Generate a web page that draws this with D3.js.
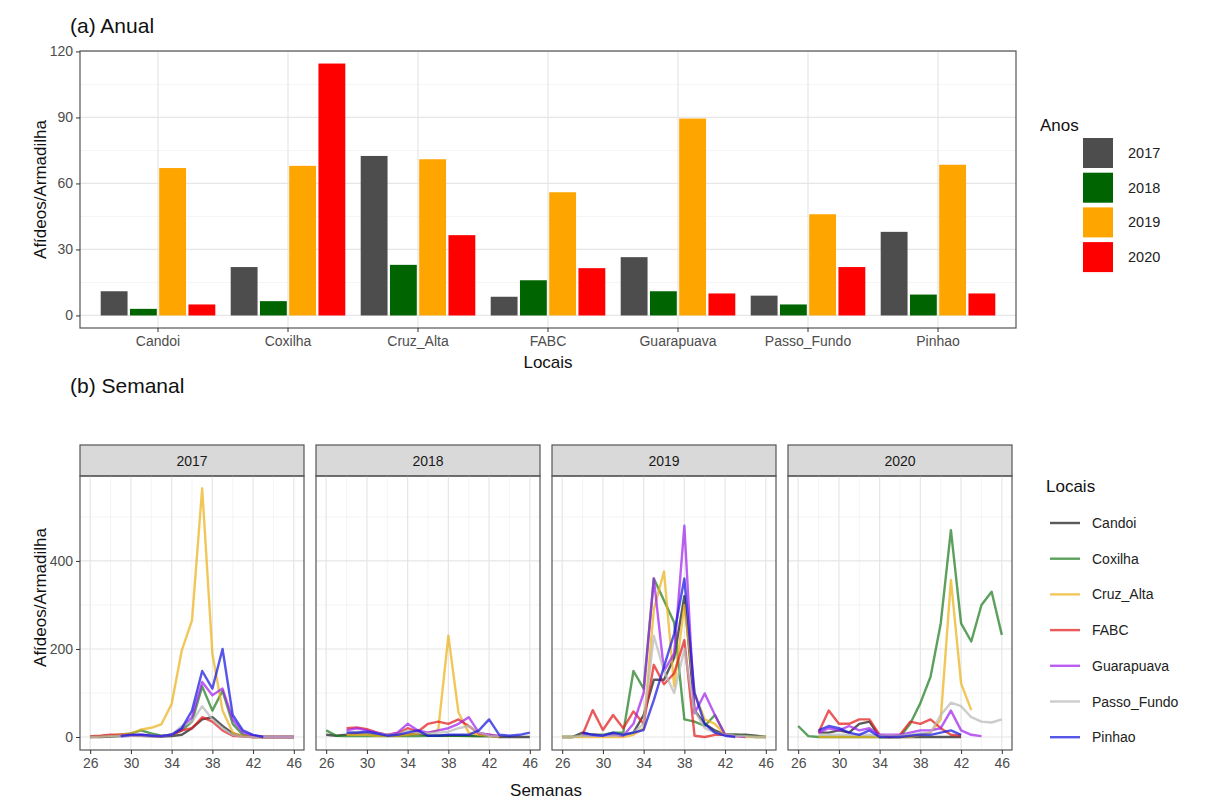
<!DOCTYPE html>
<html><head><meta charset="utf-8">
<script src="https://cdn.jsdelivr.net/npm/d3@7"></script>
<style>body{margin:0;background:#fff}svg{font-family:"Liberation Sans",Arial,sans-serif}</style>
</head><body><svg id="c" width="1208" height="801"></svg>
<script>
// ---------- data ----------
const locais = ["Candoi","Coxilha","Cruz_Alta","FABC","Guarapuava","Passo_Fundo","Pinhao"];
const anos = ["2017","2018","2019","2020"];
const anual2017 = [11, 22, 72.5, 8.5, 26.5, 9, 38];
const anual2018 = [3, 6.5, 23, 16, 11, 5, 9.5];
const anual2019 = [67, 68, 71, 56, 89.5, 46, 68.5];
const anual2020 = [5, 114.5, 36.5, 21.5, 10, 22, 10];
const anualTicks = [0, 30, 60, 90, 120];

const semanas = d3.range(26, 47);
const semanaTicks = [26, 30, 34, 38, 42, 46];
const semanalTicks = [0, 200, 400];
const N = null;
// weekly values, weeks 26..46
const s2017 = {
  Candoi:      [0,0,1,2,3,3,2,1,2,5,20,40,45,25,8,2,0,0,0,0,0],
  Coxilha:     [0,2,3,5,8,15,8,3,5,15,35,115,60,105,30,5,1,0,0,0,0],
  Cruz_Alta:   [0,1,3,5,8,17,21,29,75,197,265,565,190,60,10,2,0,0,0,0,0],
  FABC:        [2,3,5,5,4,3,2,2,5,15,20,45,35,15,3,1,0,0,0,0,0],
  Guarapuava:  [N,N,N,2,3,5,3,2,5,20,45,125,95,110,40,10,3,0,0,0,0],
  Passo_Fundo: [0,1,2,3,3,2,2,2,5,25,35,70,40,20,5,1,0,0,0,0,0],
  Pinhao:      [N,N,N,2,5,5,3,2,5,20,60,150,110,200,50,15,5,0,N,N,N]
};
const s2018 = {
  Candoi:      [5,3,5,8,8,5,3,3,5,8,3,3,3,3,3,2,2,0,0,0,0],
  Coxilha:     [15,3,2,2,2,2,2,2,2,2,3,3,3,3,2,2,2,N,N,N,N],
  Cruz_Alta:   [N,N,5,5,5,3,3,3,5,8,10,15,230,55,10,5,3,0,N,N,N],
  FABC:        [N,N,20,22,18,10,5,8,20,12,30,35,30,40,25,8,5,2,N,N,N],
  Guarapuava:  [N,N,15,20,15,10,5,10,30,15,10,15,20,30,45,10,5,2,N,N,N],
  Passo_Fundo: [N,N,10,12,10,8,5,5,15,10,8,10,12,20,25,10,3,2,N,N,N],
  Pinhao:      [N,N,10,10,12,8,3,5,10,15,3,3,5,5,5,15,40,5,3,5,10]
};
const s2019 = {
  Candoi:      [0,0,10,5,3,5,5,10,50,130,130,180,320,60,30,15,5,5,5,3,0],
  Coxilha:     [0,0,3,5,5,10,10,150,110,360,310,260,40,35,25,50,5,5,3,0,0],
  Cruz_Alta:   [0,0,0,0,0,0,0,5,20,290,376,115,300,100,40,30,5,2,0,0,0],
  FABC:        [N,N,5,61,16,50,20,58,30,164,120,145,220,3,0,5,5,2,N,N,N],
  Guarapuava:  [N,N,5,3,3,5,3,30,100,360,150,190,480,54,99,50,5,2,0,N,N],
  Passo_Fundo: [0,0,3,3,3,3,5,10,30,230,150,100,200,60,20,10,5,3,2,0,0],
  Pinhao:      [N,N,10,5,3,10,5,10,16,84,160,235,360,100,30,10,3,0,N,N,N]
};
const s2020 = {
  Candoi:      [N,N,10,10,15,10,30,35,0,0,0,0,0,0,0,0,0,N,N,N,N],
  Coxilha:     [25,2,0,0,0,0,0,0,0,0,0,30,77,137,258,470,258,217,300,330,232],
  Cruz_Alta:   [N,N,0,0,0,0,0,0,0,0,0,0,5,10,40,357,122,61,N,N,N],
  FABC:        [N,N,10,60,30,30,40,40,5,0,5,35,30,40,20,5,3,N,N,N,N],
  Guarapuava:  [N,N,10,20,15,25,15,20,5,5,5,10,15,15,20,60,15,5,2,N,N],
  Passo_Fundo: [N,N,5,5,5,5,5,5,3,3,3,5,8,10,50,78,70,45,35,33,40],
  Pinhao:      [N,N,15,25,20,10,5,15,0,0,0,3,5,5,10,15,5,N,N,N,N]
};

const corAnos = ["#4d4d4d", "#006400", "#FFA500", "#FF0000"];
const corLocais = ["#1a1a1a", "#1e7b1e", "#EBB21A", "#e31a1c", "#A020F0", "#b8b8b8", "#1515e0"];

// ---------- setup ----------
const svg = d3.select("#c");
svg.append("rect").attr("width",1208).attr("height",801).attr("fill","#fff");
const tickCol = "#4d4d4d", borderCol = "#555", gridMaj = "#e6e6e6", gridMin = "#f2f2f2";

// ---------- (a) Anual ----------
const A = {l:80, r:1016, t:51, b:328};
const xA = d3.scaleBand().domain(locais).range([A.l + 13, A.r - 13]);
const xInner = d3.scaleBand().domain(anos).range([0.05*xA.bandwidth(), 0.95*xA.bandwidth()]);
const yA = d3.scaleLinear().domain([-5.7, 120.2]).range([A.b, A.t]);
const anual = [anual2017, anual2018, anual2019, anual2020];

const gA = svg.append("g");
[15,45,75,105].forEach(v => gA.append("line").attr("x1",A.l).attr("x2",A.r).attr("y1",yA(v)).attr("y2",yA(v)).attr("stroke",gridMin).attr("stroke-width",0.8));
anualTicks.forEach(v => gA.append("line").attr("x1",A.l).attr("x2",A.r).attr("y1",yA(v)).attr("y2",yA(v)).attr("stroke",gridMaj).attr("stroke-width",1.2));
locais.forEach(c => { const x = xA(c)+xA.bandwidth()/2; gA.append("line").attr("x1",x).attr("x2",x).attr("y1",A.t).attr("y2",A.b).attr("stroke",gridMaj).attr("stroke-width",1.2); });
anos.forEach((a, j) => {
  gA.selectAll(null).data(locais).enter().append("rect")
    .attr("x", c => xA(c) + xInner(a) + 1.2)
    .attr("width", xInner.bandwidth() - 2.4)
    .attr("y", (c,i) => yA(anual[j][i]))
    .attr("height", (c,i) => yA(0) - yA(anual[j][i]))
    .attr("fill", corAnos[j]);
});
gA.append("rect").attr("x",A.l).attr("y",A.t).attr("width",A.r-A.l).attr("height",A.b-A.t).attr("fill","none").attr("stroke",borderCol).attr("stroke-width",1.2);
const axYA = gA.append("g").attr("transform",`translate(${A.l},0)`).call(d3.axisLeft(yA).tickValues(anualTicks).tickSize(4).tickPadding(3));
const axXA = gA.append("g").attr("transform",`translate(0,${A.b})`).call(d3.axisBottom(xA).tickSize(4).tickPadding(4));
[axYA, axXA].forEach(ax => { ax.select(".domain").remove(); ax.selectAll("line").attr("stroke","#333"); ax.selectAll("text").attr("fill",tickCol).attr("font-size",14); });
svg.append("text").attr("x",70).attr("y",33).attr("font-size",21).attr("fill","#111").text("(a) Anual");
svg.append("text").attr("transform",`translate(46,${(A.t+A.b)/2}) rotate(-90)`).attr("text-anchor","middle").attr("font-size",17).attr("fill","#111").text("Afídeos/Armadilha");
svg.append("text").attr("x",(A.l+A.r)/2).attr("y",368).attr("text-anchor","middle").attr("font-size",17).attr("fill","#111").text("Locais");
const lgA = svg.append("g");
lgA.append("text").attr("x",1040).attr("y",131).attr("font-size",17).attr("fill","#111").text("Anos");
anos.forEach((a,j) => {
  const cy = 153 + j*34.7;
  lgA.append("rect").attr("x",1083).attr("y",cy-15).attr("width",30).attr("height",30).attr("fill",corAnos[j]);
  lgA.append("text").attr("x",1128).attr("y",cy+5).attr("font-size",14.5).attr("fill","#222").text(a);
});

// ---------- (b) Semanal ----------
const B = {t:476, b:750, stripT:445};
const panelsX = [[80,304],[316,540],[552,776],[788,1012]];
const yB = d3.scaleLinear().domain([-29.5, 593]).range([B.b, B.t]);
const semanal = [s2017, s2018, s2019, s2020];
svg.append("text").attr("x",70).attr("y",393).attr("font-size",21).attr("fill","#111").text("(b) Semanal");

anos.forEach((a, p) => {
  const [l, r] = panelsX[p];
  const xB = d3.scaleLinear().domain([25, 47]).range([l, r]);
  const g = svg.append("g");
  g.append("rect").attr("x",l).attr("y",B.stripT).attr("width",r-l).attr("height",B.t-B.stripT).attr("fill","#d9d9d9").attr("stroke",borderCol).attr("stroke-width",1.2);
  g.append("text").attr("x",(l+r)/2).attr("y",(B.stripT+B.t)/2+5).attr("text-anchor","middle").attr("font-size",14).attr("fill","#1a1a1a").text(a);
  [100,300,500].forEach(v => g.append("line").attr("x1",l).attr("x2",r).attr("y1",yB(v)).attr("y2",yB(v)).attr("stroke",gridMin).attr("stroke-width",0.8));
  [28,32,36,40,44].forEach(v => g.append("line").attr("x1",xB(v)).attr("x2",xB(v)).attr("y1",B.t).attr("y2",B.b).attr("stroke",gridMin).attr("stroke-width",0.8));
  semanalTicks.forEach(v => g.append("line").attr("x1",l).attr("x2",r).attr("y1",yB(v)).attr("y2",yB(v)).attr("stroke",gridMaj).attr("stroke-width",1.2));
  semanaTicks.forEach(v => g.append("line").attr("x1",xB(v)).attr("x2",xB(v)).attr("y1",B.t).attr("y2",B.b).attr("stroke",gridMaj).attr("stroke-width",1.2));
  const line = d3.line().defined(d => d[1] !== null).x(d => xB(d[0])).y(d => yB(d[1]));
  locais.forEach((loc, k) => {
    const vals = semanal[p][loc];
    const pts = semanas.map((w, i) => [w, vals[i]]);
    g.append("path").datum(pts).attr("d", line).attr("fill","none")
      .attr("stroke", corLocais[k]).attr("stroke-width", 2.4).attr("stroke-opacity", 0.72)
      .attr("stroke-linejoin","round");
  });
  g.append("rect").attr("x",l).attr("y",B.t).attr("width",r-l).attr("height",B.b-B.t).attr("fill","none").attr("stroke",borderCol).attr("stroke-width",1.2);
  const ax = g.append("g").attr("transform",`translate(0,${B.b})`).call(d3.axisBottom(xB).tickValues(semanaTicks).tickSize(4).tickPadding(4));
  ax.select(".domain").remove(); ax.selectAll("line").attr("stroke","#333"); ax.selectAll("text").attr("fill",tickCol).attr("font-size",14);
  if (p === 0) {
    const ay = g.append("g").attr("transform",`translate(${l},0)`).call(d3.axisLeft(yB).tickValues(semanalTicks).tickSize(4).tickPadding(3));
    ay.select(".domain").remove(); ay.selectAll("line").attr("stroke","#333"); ay.selectAll("text").attr("fill",tickCol).attr("font-size",14);
  }
});
svg.append("text").attr("transform",`translate(46,${(B.stripT+B.b)/2}) rotate(-90)`).attr("text-anchor","middle").attr("font-size",17).attr("fill","#111").text("Afídeos/Armadilha");
svg.append("text").attr("x",546).attr("y",796).attr("text-anchor","middle").attr("font-size",17).attr("fill","#111").text("Semanas");
const lgB = svg.append("g");
lgB.append("text").attr("x",1046).attr("y",492).attr("font-size",17).attr("fill","#111").text("Locais");
locais.forEach((loc,k) => {
  const cy = 523 + k*35.7;
  lgB.append("line").attr("x1",1050).attr("x2",1080).attr("y1",cy).attr("y2",cy).attr("stroke",corLocais[k]).attr("stroke-width",2.4).attr("stroke-opacity",0.72);
  lgB.append("text").attr("x",1092).attr("y",cy+5).attr("font-size",14).attr("fill","#222").text(loc);
});
</script></body></html>
